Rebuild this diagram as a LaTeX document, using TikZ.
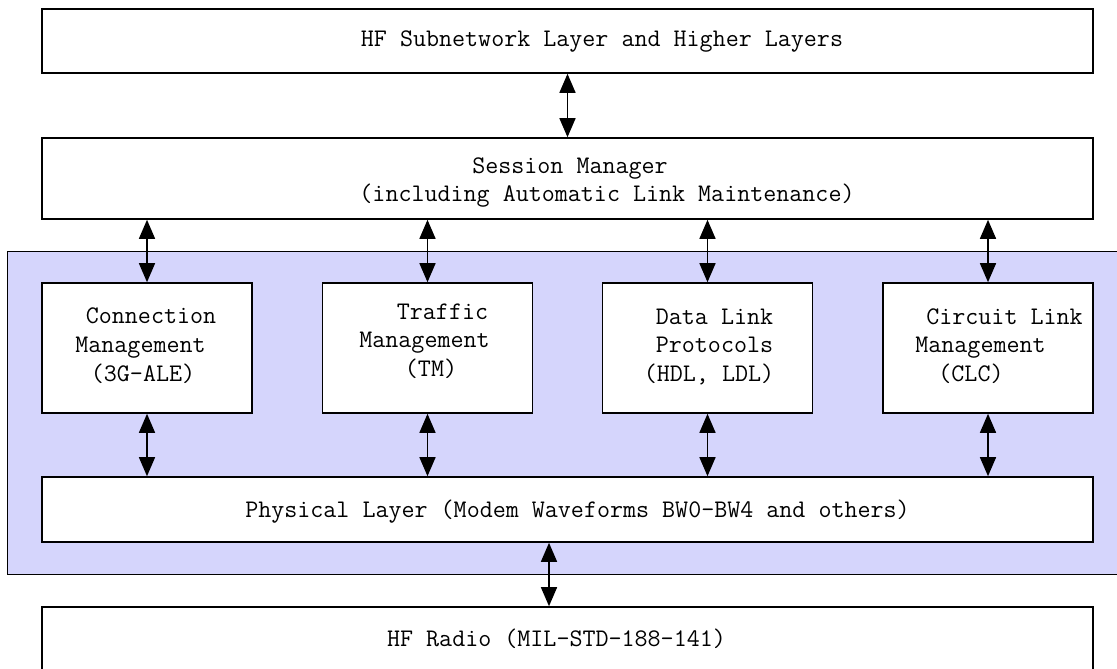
\documentclass[tikz,border=0pt]{standalone}
\usepackage{fontspec}
\usetikzlibrary{arrows.meta,calc}
\definecolor{groupblue}{RGB}{213,213,252}
\tikzset{
  box/.style={draw=black, line width=1.6pt, fill=white, inner sep=0pt, rectangle},
  wide/.style={box, minimum width=1051pt},
  small/.style={box, minimum width=210pt, minimum height=130pt},
  dar/.style={line width=1.5pt, {Triangle[length=19pt,width=16pt]}-{Triangle[length=19pt,width=16pt]}},
  lbl/.style={anchor=base, inner sep=0pt, font=\ttfamily\fontsize{25.3pt}{29pt}\selectfont}
}
\begin{document}
\begin{tikzpicture}[x=1pt,y=-1pt]
\useasboundingbox (0,0) rectangle (1117,669);
\fill[white] (0,0) rectangle (1117,669);
% group background
\node[draw=black, line width=1.1pt, fill=groupblue, minimum width=1125pt, minimum height=323pt, inner sep=0pt, anchor=north west] (grp) at (7,251) {};
% boxes
\node[wide, minimum height=64pt] (top) at (567.5,41) {};
\node[wide, minimum height=81pt] (sess) at (567.5,178.5) {};
\node[small] (conn) at (147,348) {};
\node[small] (traf) at (427.5,348) {};
\node[small] (dlink) at (707.5,348) {};
\node[small] (circ) at (988,348) {};
\node[wide, minimum height=65pt] (phys) at (567.5,509.5) {};
\node[wide, minimum height=65pt] (radio) at (567.5,639.5) {};
% labels
\node[lbl] (t1) at (602,47) {HF Subnetwork Layer and Higher Layers};
\node[lbl] (s1) at (570,173) {Session Manager};
\node[lbl] (s2) at (607,201) {(including Automatic Link Maintenance)};
\node[lbl] (c1) at (151,323) {Connection};
\node[lbl] (c2) at (140.5,352) {Management};
\node[lbl] (c3) at (143,381) {(3G-ALE)};
\node[lbl] (r1) at (442.5,319) {Traffic};
\node[lbl] (r2) at (424.5,347) {Management};
\node[lbl] (r3) at (431,376) {(TM)};
\node[lbl] (d1) at (714.5,324) {Data Link};
\node[lbl] (d2) at (714.5,352) {Protocols};
\node[lbl] (d3) at (709,381) {(HDL, LDL)};
\node[lbl] (k1) at (1004.5,324) {Circuit Link};
\node[lbl] (k2) at (980.5,352) {Management};
\node[lbl] (k3) at (971,381) {(CLC)};
\node[lbl] (p1) at (577.5,517) {Physical Layer (Modem Waveforms BW0-BW4 and others)};
\node[lbl] (h1) at (556.5,646) {HF Radio (MIL-STD-188-141)};
% connectors
\draw[dar] (top.south) -- (sess.north);
\foreach \b in {conn,traf,dlink,circ}{
  \draw[dar] (sess.south -| \b.north) -- (\b.north);
  \draw[dar] (\b.south) -- (phys.north -| \b.south);
}
\coordinate (pr) at (549,0);
\draw[dar] (phys.south -| pr) -- (radio.north -| pr);
\end{tikzpicture}
\end{document}
